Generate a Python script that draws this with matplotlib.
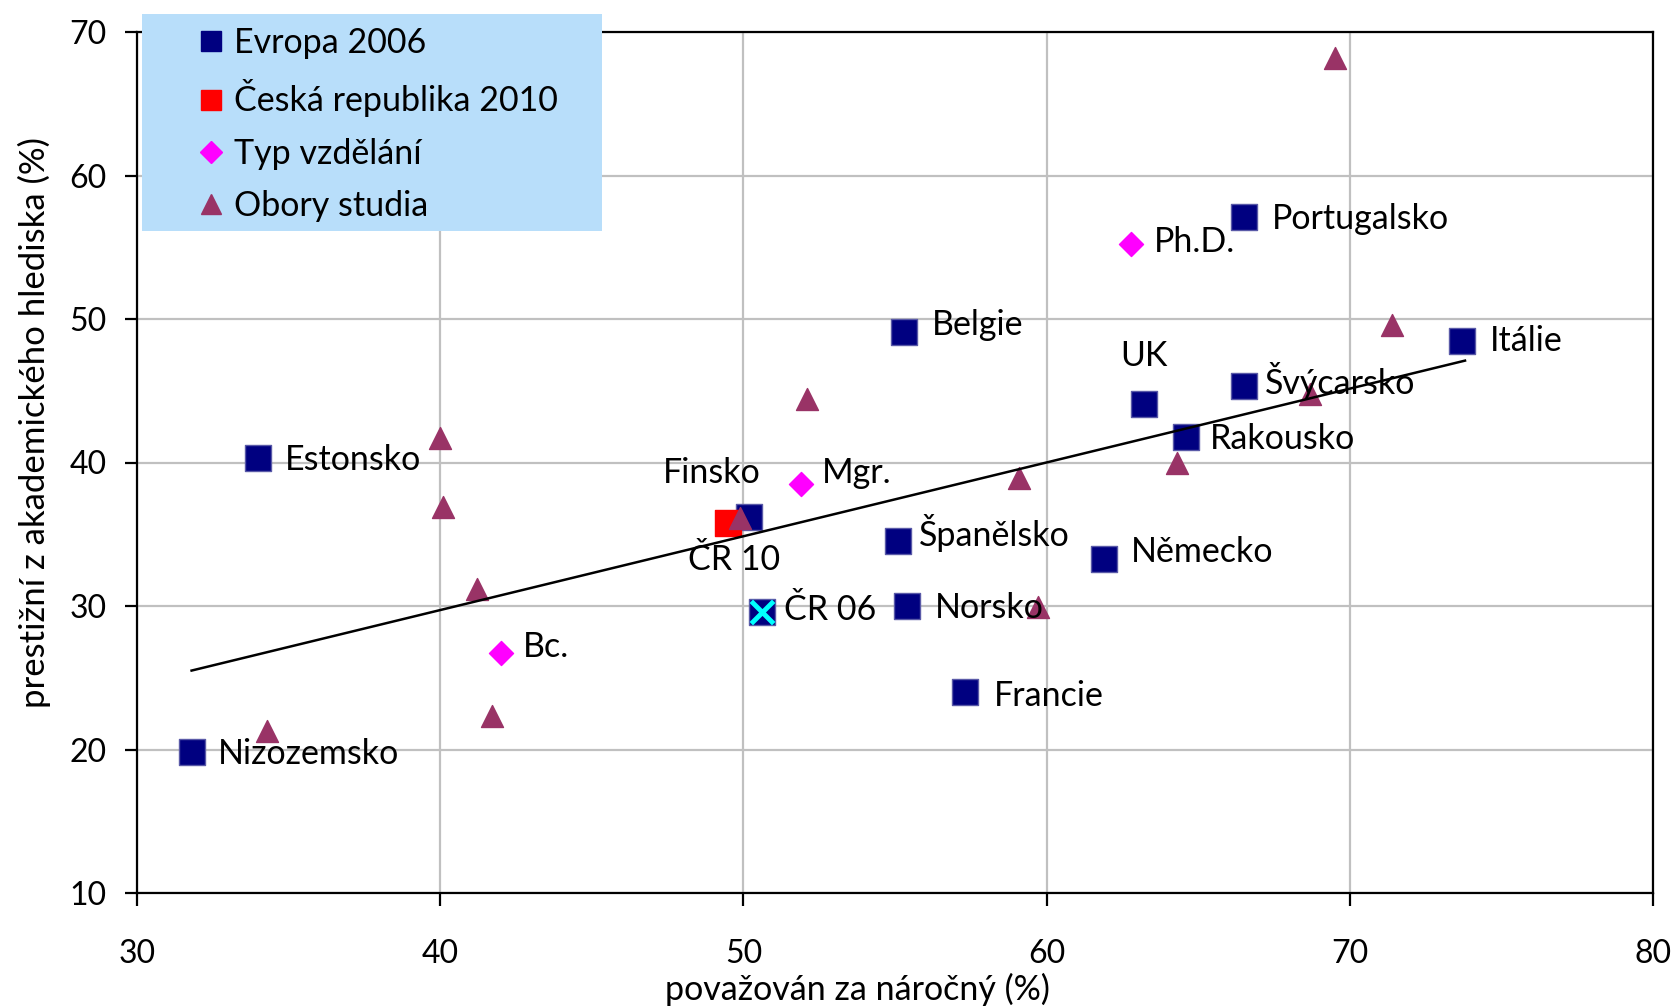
import numpy as np
import matplotlib
matplotlib.use("Agg")
import matplotlib.pyplot as plt
from matplotlib.lines import Line2D
from matplotlib.patches import Rectangle

plt.rcParams['font.family'] = ['Lato', 'DejaVu Sans']
plt.rcParams['font.size'] = 24

# Evropa 2006 (země)
evropa_labels = ['Portugalsko', 'Belgie', 'Itálie', 'UK', 'Švýcarsko', 'Rakousko',
                 'Estonsko', 'Finsko', 'Španělsko', 'Německo', 'Norsko', 'ČR 06',
                 'Francie', 'Nizozemsko']
evropa_x = [66.5, 55.3, 73.7, 63.2, 66.5, 64.6, 34.0, 50.2, 55.1, 61.9, 55.4, 50.6, 57.3, 31.8]
evropa_y = [57.1, 49.1, 48.5, 44.1, 45.3, 41.8, 40.3, 36.2, 34.5, 33.3, 30.0, 29.6, 24.0, 19.8]

# Česká republika 2010
cr_label = ['ČR 10']
cr_x = [49.5]
cr_y = [35.8]

# Typ vzdělání
typ_labels = ['Ph.D.', 'Mgr.', 'Bc.']
typ_x = [62.8, 51.9, 42.0]
typ_y = [55.2, 38.5, 26.7]

# Obory studia
obory_x = [69.5, 71.4, 68.7, 52.1, 40.0, 64.3, 59.1, 40.1, 49.9, 41.2, 59.7, 34.3, 41.7]
obory_y = [68.2, 49.6, 44.8, 44.4, 41.7, 40.0, 38.9, 36.9, 36.1, 31.2, 29.9, 21.3, 22.3]

# trendová čára (koncové body)
trend_x = [31.8, 73.8]
trend_y = [25.5, 47.1]

# posuny popisků (v bodech)
offsets = {
    'Portugalsko': (20, -1), 'Belgie': (20, 5), 'Itálie': (20, 0), 'UK': (-17, 34),
    'Švýcarsko': (15, 4), 'Rakousko': (17, -1.5), 'Estonsko': (19, -1),
    'Finsko': (-62, 32), 'Španělsko': (15, 6), 'Německo': (19, 5), 'Norsko': (20, -1.5),
    'ČR 06': (16, 1.5), 'Francie': (21, -3), 'Nizozemsko': (19, -1),
    'ČR 10': (-29, -27), 'Ph.D.': (16, 1.5), 'Mgr.': (15, 8), 'Bc.': (16, 4.5),
}

navy = '#000080'
red = '#FF0000'
magenta = '#FF00FF'
plum = '#993366'

fig = plt.figure(figsize=(16.8, 10.08), dpi=100)
ax = fig.add_axes([137 / 1680, 1 - 893 / 1008, 1516 / 1680, 861 / 1008])

ax.scatter(evropa_x, evropa_y, marker='s', s=330, color=navy, edgecolors='#5a5aa8',
           linewidths=1, zorder=3)
i06 = evropa_labels.index('ČR 06')
ax.scatter([evropa_x[i06]], [evropa_y[i06]], marker='x', s=260, color='#00FFFF',
           linewidths=3.5, zorder=3.5)
ax.scatter(cr_x, cr_y, marker='s', s=330, color=red, zorder=3)
ax.scatter(typ_x, typ_y, marker='D', s=150, color=magenta, zorder=3)
ax.scatter(obory_x, obory_y, marker='^', s=250, color=plum, zorder=4)
ax.plot(trend_x, trend_y, color='black', linewidth=1.8, zorder=5)

for lab, x, y in zip(evropa_labels + cr_label + typ_labels,
                     evropa_x + cr_x + typ_x, evropa_y + cr_y + typ_y):
    dx, dy = offsets[lab]
    ax.annotate(lab, (x, y), xytext=(dx, dy), textcoords='offset points',
                ha='left', va='center', fontsize=24.5, color='black', zorder=6)

ax.set_xlim(30, 80)
ax.set_ylim(10, 70)
ax.set_xticks(np.arange(30, 81, 10))
ax.set_yticks(np.arange(10, 71, 10))
ax.grid(True, color='#C0C0C0', linewidth=1.6)
ax.set_axisbelow(True)
for sp in ax.spines.values():
    sp.set_linewidth(1.6)
    sp.set_color('black')
ax.tick_params(axis='both', direction='out', length=9, width=1.6, labelsize=23)
ax.tick_params(axis='x', pad=24)
ax.tick_params(axis='y', pad=13)

ax.set_xlabel('považován za náročný (%)', fontsize=24.5)
ax.xaxis.set_label_coords(0.475, -0.093)
ax.set_ylabel('prestižní z akademického hlediska (%)', fontsize=25)
ax.yaxis.set_label_coords(-0.057, 0.546)

# legenda
box = Rectangle((142 / 1680, 1 - 231 / 1008), 460 / 1680, 217 / 1008,
                transform=fig.transFigure, facecolor='#B8DEFA', edgecolor='none', zorder=4)
fig.add_artist(box)
handles = [
    Line2D([], [], linestyle='none', marker='s', markersize=15, color=navy),
    Line2D([], [], linestyle='none', marker='s', markersize=15, color=red),
    Line2D([], [], linestyle='none', marker='D', markersize=11, color=magenta),
    Line2D([], [], linestyle='none', marker='^', markersize=15, color=plum),
]
labels = ['Evropa 2006', 'Česká republika 2010', 'Typ vzdělání', 'Obory studia']
fig.legend(handles, labels, loc='upper left', bbox_to_anchor=(197 / 1680, 1 - 27 / 1008),
           frameon=False, fontsize=24.5, handlelength=0.8, handletextpad=0.3,
           labelspacing=0.6, borderpad=0, borderaxespad=0)

fig.savefig('out.png', dpi=100)
